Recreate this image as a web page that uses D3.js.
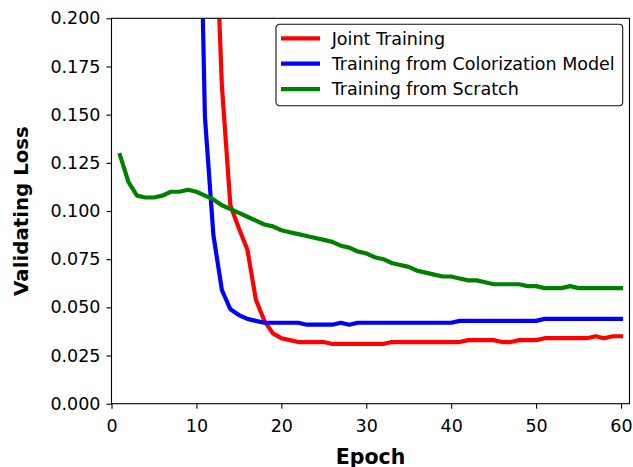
<!DOCTYPE html>
<html>
<head>
<meta charset="utf-8">
<script src="https://cdn.jsdelivr.net/npm/d3@7"></script>
<style>
  body { margin: 0; background: #fff; }
  svg { display: block; font-family: "DejaVu Sans", sans-serif; }
</style>
</head>
<body>
<div id="chart"></div>
<script>
// epochs for each curve (red/blue start just above the visible range)
const jointEpochs = d3.range(12, 61);
const jointLoss = [0.28, 0.165, 0.103, 0.091, 0.080, 0.054, 0.043, 0.0365, 0.034, 0.033,
  0.032, 0.032, 0.032, 0.032, 0.031, 0.031, 0.031, 0.031, 0.031, 0.031,
  0.031, 0.032, 0.032, 0.032, 0.032, 0.032, 0.032, 0.032, 0.032, 0.032,
  0.033, 0.033, 0.033, 0.033, 0.032, 0.032, 0.033, 0.033, 0.033, 0.034,
  0.034, 0.034, 0.034, 0.034, 0.034, 0.035, 0.034, 0.035, 0.035];

const colorEpochs = d3.range(10, 61);
const colorLoss = [0.36, 0.149, 0.0875, 0.059, 0.049, 0.046, 0.044, 0.043, 0.042, 0.042,
  0.042, 0.042, 0.042, 0.041, 0.041, 0.041, 0.041, 0.042, 0.041, 0.042,
  0.042, 0.042, 0.042, 0.042, 0.042, 0.042, 0.042, 0.042, 0.042, 0.042,
  0.042, 0.043, 0.043, 0.043, 0.043, 0.043, 0.043, 0.043, 0.043, 0.043,
  0.043, 0.044, 0.044, 0.044, 0.044, 0.044, 0.044, 0.044, 0.044, 0.044, 0.044];

const scratchEpochs = d3.range(1, 61);
const scratchLoss = [0.129, 0.115, 0.108, 0.107, 0.107, 0.108, 0.110, 0.110, 0.111, 0.110,
  0.108, 0.106, 0.103, 0.101, 0.099, 0.097, 0.095, 0.093, 0.092, 0.090,
  0.089, 0.088, 0.087, 0.086, 0.085, 0.084, 0.082, 0.081, 0.079, 0.078,
  0.076, 0.075, 0.073, 0.072, 0.071, 0.069, 0.068, 0.067, 0.066, 0.066,
  0.065, 0.064, 0.064, 0.063, 0.062, 0.062, 0.062, 0.062, 0.061, 0.061,
  0.060, 0.060, 0.060, 0.061, 0.060, 0.060, 0.060, 0.060, 0.060, 0.060];

const seriesNames = ['Joint Training', 'Training from Colorization Model', 'Training from Scratch'];
const seriesColors = ['#ff0000', '#0000ff', '#008000'];
const xTicks = [0, 10, 20, 30, 40, 50, 60];
const yTicks = [0, 0.025, 0.05, 0.075, 0.1, 0.125, 0.15, 0.175, 0.2];

const series = [
  {name: seriesNames[0], color: seriesColors[0], values: jointEpochs.map((e, i) => [e, jointLoss[i]])},
  {name: seriesNames[1], color: seriesColors[1], values: colorEpochs.map((e, i) => [e, colorLoss[i]])},
  {name: seriesNames[2], color: seriesColors[2], values: scratchEpochs.map((e, i) => [e, scratchLoss[i]])}
];

const width = 633, height = 467;
const margin = {top: 18.3, right: 3.5, bottom: 63.3, left: 111.5};
const visWidth = width - margin.left - margin.right;
const visHeight = height - margin.top - margin.bottom;

const svg = d3.select('#chart').append('svg')
    .attr('width', width)
    .attr('height', height);

const g = svg.append('g')
    .attr('transform', `translate(${margin.left},${margin.top})`);

const x = d3.scaleLinear().domain([0, 61]).range([0, visWidth]);
const y = d3.scaleLinear().domain([0, 0.2]).range([visHeight, 0]);

g.append('clipPath').attr('id', 'plotclip')
  .append('rect').attr('width', visWidth).attr('height', visHeight);

const line = d3.line().x(d => x(d[0])).y(d => y(d[1]));

g.append('g').attr('clip-path', 'url(#plotclip)')
  .selectAll('path')
  .data(series)
  .join('path')
    .attr('d', d => line(d.values))
    .attr('fill', 'none')
    .attr('stroke', d => d.color)
    .attr('stroke-width', 4.2)
    .attr('stroke-linejoin', 'round')
    .attr('stroke-linecap', 'square');

// frame
g.append('rect')
  .attr('width', visWidth)
  .attr('height', visHeight)
  .attr('fill', 'none')
  .attr('stroke', '#000')
  .attr('stroke-width', 1.1);

const xAxis = g.append('g')
    .attr('transform', `translate(0,${visHeight})`)
    .call(d3.axisBottom(x).tickValues(xTicks).tickFormat(d3.format('d'))
      .tickSize(5).tickSizeOuter(0).tickPadding(11));

const yAxis = g.append('g')
    .call(d3.axisLeft(y).tickValues(yTicks).tickFormat(d3.format('.3f'))
      .tickSize(5).tickSizeOuter(0).tickPadding(6));

[xAxis, yAxis].forEach(a => {
  a.select('.domain').remove();
  a.selectAll('line').attr('stroke', '#000').attr('stroke-width', 1.1);
  a.selectAll('text')
    .attr('fill', '#000')
    .style('font-family', '"DejaVu Sans", sans-serif')
    .style('font-size', '17.5px');
});

svg.append('text')
  .attr('transform', `translate(28,${margin.top + visHeight / 2}) rotate(-90)`)
  .attr('text-anchor', 'middle')
  .style('font-weight', 'bold')
  .style('font-size', '19.8px')
  .text('Validating Loss');

svg.append('text')
  .attr('x', margin.left + visWidth / 2)
  .attr('y', 463.5)
  .attr('text-anchor', 'middle')
  .style('font-weight', 'bold')
  .style('font-size', '20.5px')
  .text('Epoch');

// legend
const legend = svg.append('g').attr('transform', 'translate(276,24.3)');

legend.append('rect')
  .attr('width', 346.7)
  .attr('height', 81.4)
  .attr('rx', 3.5)
  .attr('fill', '#fff')
  .attr('stroke', '#111')
  .attr('stroke-width', 1.1);

const item = legend.selectAll('.item')
  .data(series)
  .join('g')
    .attr('class', 'item')
    .attr('transform', (d, i) => `translate(0,${14 + i * 25.4})`);

item.append('line')
  .attr('x1', 5).attr('x2', 44)
  .attr('stroke', d => d.color)
  .attr('stroke-width', 4.2);

item.append('text')
  .attr('x', 55.7)
  .attr('dy', '0.36em')
  .style('font-size', '17.5px')
  .text(d => d.name);
</script>
</body>
</html>
